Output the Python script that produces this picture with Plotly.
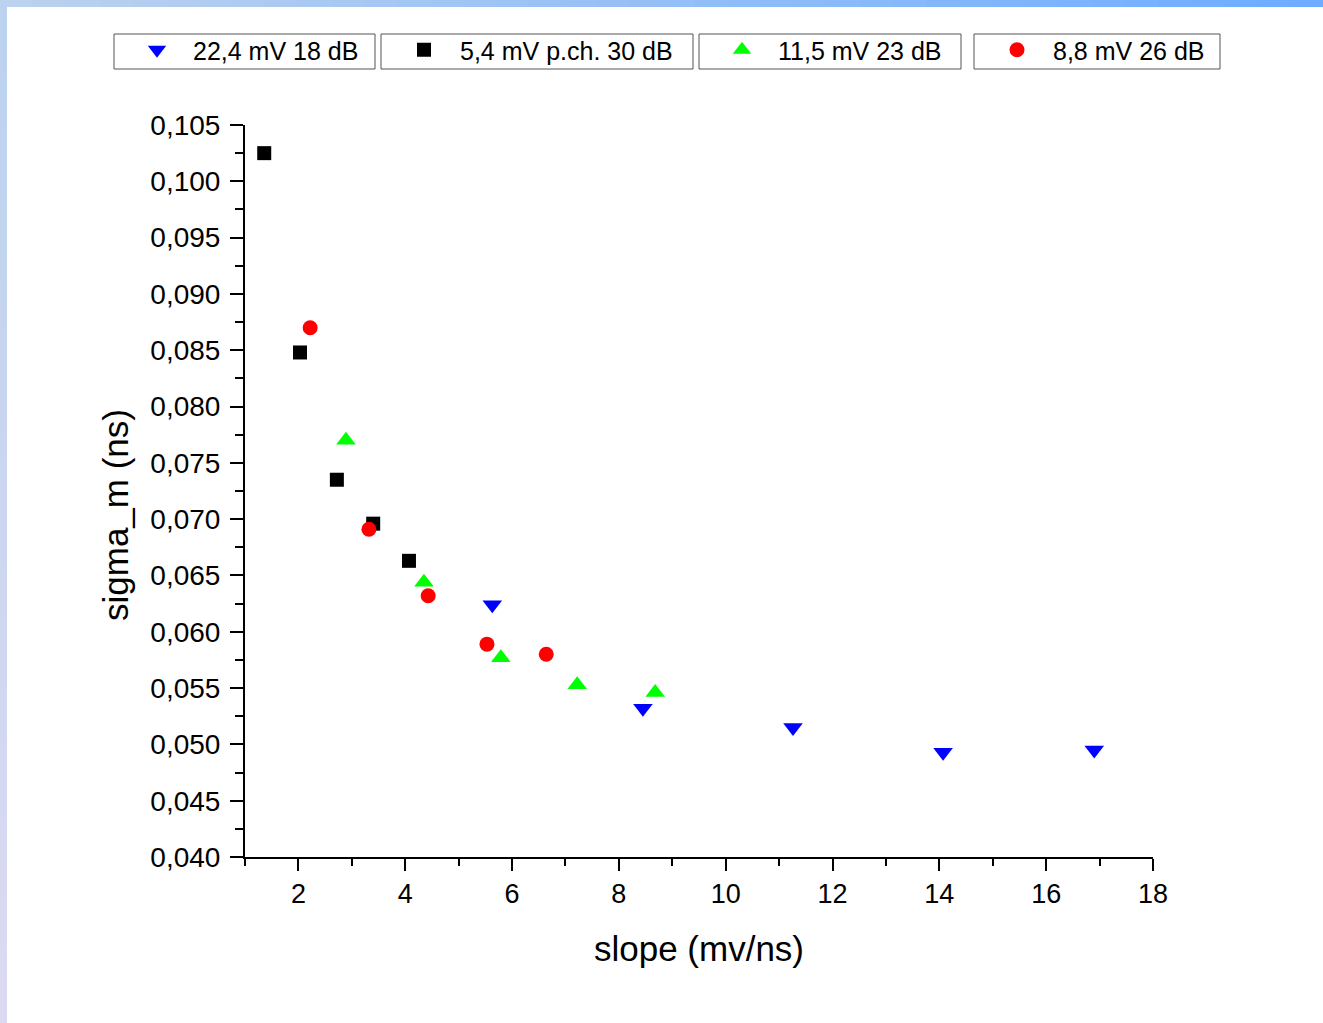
import plotly.graph_objects as go

# ---- data ----
blue_x = [5.63, 8.45, 11.26, 14.07, 16.90]
blue_y = [0.0624, 0.0532, 0.0515, 0.0493, 0.0495]

black_x = [1.36, 2.03, 2.72, 3.40, 4.07]
black_y = [0.1025, 0.0848, 0.0735, 0.0696, 0.0663]

green_x = [2.89, 4.35, 5.79, 7.22, 8.68]
green_y = [0.0770, 0.0644, 0.0577, 0.0553, 0.0546]

red_x = [2.22, 3.32, 4.43, 5.53, 6.64]
red_y = [0.0870, 0.0691, 0.0632, 0.0589, 0.0580]

names = ["22,4 mV 18 dB", "5,4 mV p.ch. 30 dB", "11,5 mV 23 dB", "8,8 mV 26 dB"]

FONT = "Liberation Sans, Arial, sans-serif"

fig = go.Figure()
fig.add_trace(go.Scatter(x=blue_x, y=blue_y, mode="markers", name=names[0],
                         marker=dict(symbol="triangle-down", size=17, color="#0000ff"),
                         legend="legend"))
fig.add_trace(go.Scatter(x=black_x, y=black_y, mode="markers", name=names[1],
                         marker=dict(symbol="square", size=14, color="#000000"),
                         legend="legend2"))
fig.add_trace(go.Scatter(x=green_x, y=green_y, mode="markers", name=names[2],
                         marker=dict(symbol="triangle-up", size=17, color="#00ff00"),
                         legend="legend3"))
fig.add_trace(go.Scatter(x=red_x, y=red_y, mode="markers", name=names[3],
                         marker=dict(symbol="circle", size=15, color="#ff0000"),
                         legend="legend4"))

W, H = 1323, 1023
L, R, T, B = 245, 1153, 125, 857
pw, ph = R - L, B - T

def px(x):
    return (x - L) / pw

def py(y):
    return (B - y) / ph

def leg(x0):
    return dict(x=px(x0), y=py(27), xanchor="left", yanchor="top",
                orientation="h", borderwidth=0,
                bgcolor="rgba(0,0,0,0)", font=dict(family=FONT, size=25, color="#000"),
                indentation=7, itemwidth=62)

shapes = []
# slide-like gradient border strips
n = 40
def lerp(c1, c2, t):
    return "rgb(%d,%d,%d)" % tuple(round(a + (b - a) * t) for a, b in zip(c1, c2))
top_c1, top_c2 = (188, 210, 238), (110, 172, 255)
left_c1, left_c2 = (188, 210, 238), (220, 218, 242)
for i in range(n):
    t = i / (n - 1)
    shapes.append(dict(type="rect", xref="paper", yref="paper",
                       x0=px(W * i / n), x1=px(W * (i + 1) / n + 1),
                       y0=py(0), y1=py(7), line=dict(width=0),
                       fillcolor=lerp(top_c1, top_c2, t), layer="above"))
    shapes.append(dict(type="rect", xref="paper", yref="paper",
                       x0=px(0), x1=px(7),
                       y0=py(H * i / n), y1=py(H * (i + 1) / n + 1), line=dict(width=0),
                       fillcolor=lerp(left_c1, left_c2, t), layer="above"))

# legend frames (one box per series)
for (a, b) in [(114, 375), (381, 693), (699, 961), (974, 1220)]:
    shapes.append(dict(type="rect", xref="paper", yref="paper",
                       x0=px(a), x1=px(b), y0=py(34), y1=py(69),
                       line=dict(color="#555555", width=1), fillcolor="white",
                       layer="below"))

fig.update_layout(
    width=W, height=H,
    margin=dict(l=L, r=W - R, t=T, b=H - B, autoexpand=False),
    paper_bgcolor="white", plot_bgcolor="white",
    separators=", ",
    font=dict(family=FONT, color="#000"),
    showlegend=True,
    legend=leg(114),
    legend2=leg(381),
    legend3=leg(699),
    legend4=leg(974),
    shapes=shapes,
    annotations=[dict(text="sigma_m (ns)", xref="paper", yref="paper",
                      x=px(115), y=py(515), xanchor="center", yanchor="middle",
                      textangle=-90, showarrow=False,
                      font=dict(family=FONT, size=35, color="#000"))],
)

fig.update_xaxes(
    range=[1, 18], showgrid=False, zeroline=False,
    showline=True, linecolor="#000", linewidth=2,
    tick0=0, dtick=2, ticks="outside", ticklen=12, tickwidth=2, tickcolor="#000",
    minor=dict(dtick=1, tick0=0, ticks="outside", ticklen=7, tickwidth=2, tickcolor="#000"),
    tickfont=dict(family=FONT, size=27, color="#000"),
    title=dict(text="slope (mv/ns)", font=dict(family=FONT, size=35, color="#000"), standoff=28),
)
fig.update_yaxes(
    range=[0.040, 0.105], showgrid=False, zeroline=False,
    showline=True, linecolor="#000", linewidth=2,
    tick0=0.04, dtick=0.005, tickformat=".3f",
    ticks="outside", ticklen=13, tickwidth=2, tickcolor="#000",
    minor=dict(dtick=0.0025, tick0=0.04, ticks="outside", ticklen=8, tickwidth=2, tickcolor="#000"),
    tickfont=dict(family=FONT, size=28, color="#000"),
    ticklabelstandoff=4,
)

fig.write_html("out.html")
